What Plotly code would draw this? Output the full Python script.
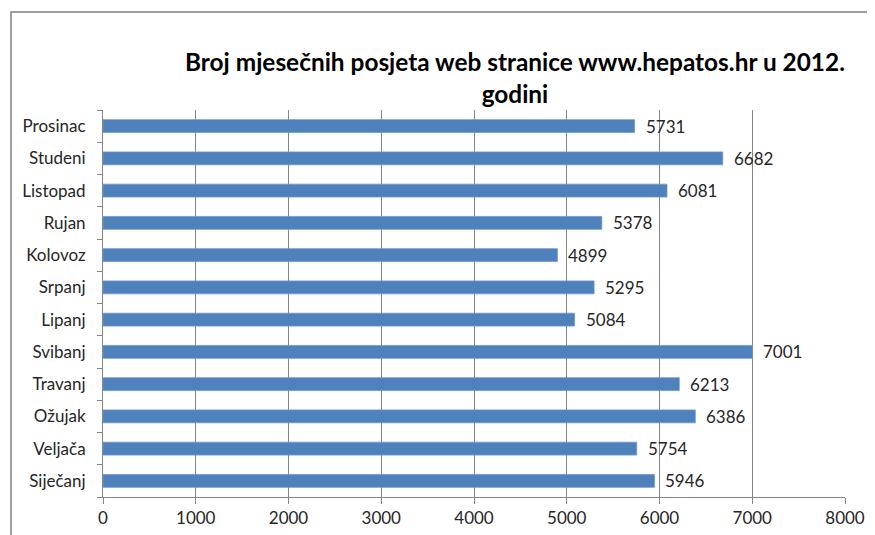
import plotly.graph_objects as go

months = ["Siječanj", "Veljača", "Ožujak", "Travanj", "Svibanj", "Lipanj",
          "Srpanj", "Kolovoz", "Rujan", "Listopad", "Studeni", "Prosinac"]
visits = [5946, 5754, 6386, 6213, 7001, 5084, 5295, 4899, 5378, 6081, 6682, 5731]
x_ticks = [0, 1000, 2000, 3000, 4000, 5000, 6000, 7000, 8000]

FONT = "Lato, 'Open Sans', sans-serif"
GRID = "#868686"
TXT = "#262626"

# page is offset by the 8px body margin; layout numbers compensate
fig = go.Figure()
fig.add_trace(go.Bar(
    x=visits, y=months, orientation="h",
    marker=dict(color="#4F81BD", line=dict(color="#6f98c9", width=0.8)),
    hoverinfo="x+y",
))

for m, v in zip(months, visits):
    fig.add_annotation(x=v, y=m, text=str(v), showarrow=False,
                       xanchor="left", yanchor="middle", xshift=9,
                       font=dict(family=FONT, size=17, color=TXT))

fig.update_layout(
    width=875, height=535,
    margin=dict(l=95, r=38, t=102, b=46),
    paper_bgcolor="white", plot_bgcolor="white",
    bargap=0.6,
    showlegend=False,
    font=dict(family=FONT, size=17, color=TXT),
    title=dict(
        text="Broj mjesečnih posjeta web stranice www.hepatos.hr u 2012.<br>godini",
        x=507 / 875, xanchor="center", y=1 - 63 / 535, yanchor="top",
        font=dict(family=FONT, size=24.4, color="black", weight="bold"),
    ),
    xaxis=dict(
        range=[0, 8000], tickvals=x_ticks, ticktext=[str(t) for t in x_ticks],
        showgrid=True, gridcolor=GRID, gridwidth=1,
        showline=True, linecolor=GRID, linewidth=1,
        ticks="outside", ticklen=6, tickcolor=GRID,
        zeroline=False, tickfont=dict(size=17, color=TXT),
    ),
    yaxis=dict(
        type="category", showgrid=False,
        showline=True, linecolor=GRID, linewidth=1,
        ticks="outside", ticklen=5, tickcolor=GRID, tickson="boundaries",
        ticklabelstandoff=13, tickfont=dict(size=17, color=TXT),
    ),
    shapes=[dict(type="rect", xref="paper", yref="paper",
                 x0=(3 - 95) / 742, x1=2.0, y0=-1.0, y1=(489 - 4) / 387,
                 line=dict(color="#7f7f7f", width=1.5), layer="below")],
)

fig.write_html("out.html")
